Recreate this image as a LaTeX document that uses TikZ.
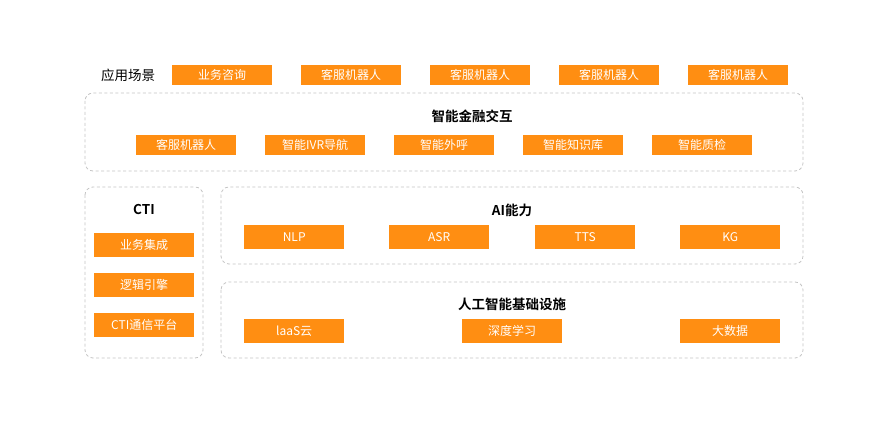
\documentclass[tikz,border=0pt]{standalone}
\usepackage{fontspec}
\setmainfont{Noto Sans CJK SC}
\newfontfamily\boldcjk{Noto Sans CJK SC Bold}
\definecolor{boxorange}{HTML}{FF8E12}
\definecolor{dashgray}{HTML}{C4C4C4}
\begin{document}
\begin{tikzpicture}[x=1pt,y=-1pt,
  obox/.style={fill=boxorange,draw=none,minimum width=100pt,minimum height=#1,inner sep=0pt,text=white,font=\fontsize{12}{12}\selectfont},
  obox/.default=20pt,
  panel/.style={draw=dashgray,line width=0.8pt,dash pattern=on 3pt off 2.5pt,rounded corners=8pt},
  ttl/.style={font=\boldcjk\fontsize{13.5}{14}\selectfont,text=black,inner sep=0pt},
]
\useasboundingbox (0,0) rectangle (880,427);
% scene row
\node[font=\fontsize{13.5}{14}\selectfont,inner sep=0pt] (scene) at (128,75) {应用场景};
\node[obox,anchor=north west] (s1) at (172,65) {业务咨询};
\node[obox,anchor=north west] (s2) at (301,65) {客服机器人};
\node[obox,anchor=north west] (s3) at (430,65) {客服机器人};
\node[obox,anchor=north west] (s4) at (559,65) {客服机器人};
\node[obox,anchor=north west] (s5) at (688,65) {客服机器人};
% finance interaction panel
\draw[panel] (85,93) rectangle (803,171);
\node[ttl] (fin) at (472,116) {智能金融交互};
\node[obox,anchor=north west] (f1) at (136,135) {客服机器人};
\node[obox,anchor=north west] (f2) at (265,135) {智能IVR导航};
\node[obox,anchor=north west] (f3) at (394,135) {智能外呼};
\node[obox,anchor=north west] (f4) at (523,135) {智能知识库};
\node[obox,anchor=north west] (f5) at (652,135) {智能质检};
% CTI panel
\draw[panel] (85,187) rectangle (203,358);
\node[ttl] (cti) at (144,210) {CTI};
\node[obox=24pt,anchor=north west] (c1) at (94,233) {业务集成};
\node[obox=24pt,anchor=north west] (c2) at (94,273) {逻辑引擎};
\node[obox=24pt,anchor=north west] (c3) at (94,313) {CTI通信平台};
% AI panel
\draw[panel] (221,187) rectangle (803,264);
\node[ttl] (ai) at (512,210) {AI能力};
\node[obox=24pt,anchor=north west] (a1) at (244,225) {NLP};
\node[obox=24pt,anchor=north west] (a2) at (389,225) {ASR};
\node[obox=24pt,anchor=north west] (a3) at (535,225) {TTS};
\node[obox=24pt,anchor=north west] (a4) at (680,225) {KG};
% infra panel
\draw[panel] (221,282) rectangle (803,358);
\node[ttl] (inf) at (512,304) {人工智能基础设施};
\node[obox=24pt,anchor=north west] (i1) at (244,319) {laaS云};
\node[obox=24pt,anchor=north west] (i2) at (462,319) {深度学习};
\node[obox=24pt,anchor=north west] (i3) at (680,319) {大数据};
\end{tikzpicture}
\end{document}
